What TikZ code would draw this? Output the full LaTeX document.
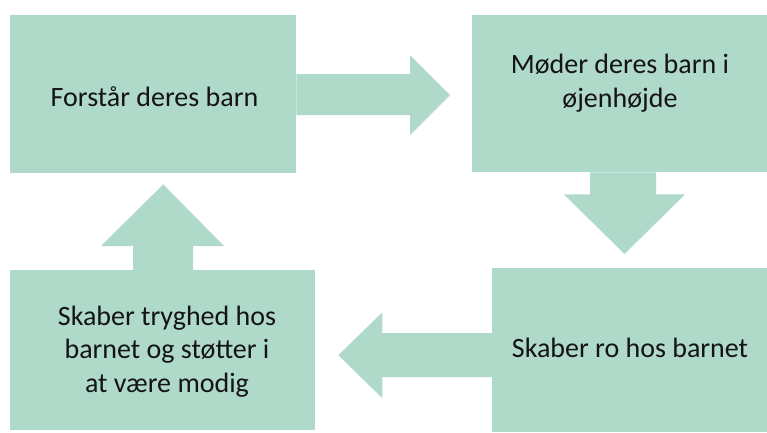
\documentclass[tikz,border=0pt]{standalone}
\usepackage{fontspec}
\setmainfont{Carlito}
\usetikzlibrary{calc}
\definecolor{mint}{HTML}{AFD9C9}
\begin{document}
\begin{tikzpicture}[x=1pt,y=-1pt,
  box/.style={fill=mint, draw=none, inner sep=0pt, anchor=north west},
  arr/.style={fill=mint, draw=none},
  lbl/.style={font=\fontsize{28}{33.5}\selectfont, align=center, inner sep=0pt, text=black!92}]
\useasboundingbox (0,0) rectangle (767,432);
% boxes
\node[box, minimum width=286pt, minimum height=158pt] (b1) at (10,15) {};
\node[box, minimum width=295pt, minimum height=157pt] (b2) at (472,15) {};
\node[box, minimum width=275pt, minimum height=164pt] (b3) at (492,268) {};
\node[box, minimum width=305pt, minimum height=160pt] (b4) at (10,270) {};
% arrow b1 -> b2
\path (b1.east) coordinate (r0) (b2.west |- b1.east) coordinate (r1);
\fill[arr] ($(r0)+(0,-20)$) -- ($(r1)+(-62,-20)$) -- ($(r1)+(-62,-39)$)
  -- ($(r1)+(-22,1)$) -- ($(r1)+(-62,41)$) -- ($(r1)+(-62,21)$) -- ($(r0)+(0,21)$) -- cycle;
% arrow b2 -> b3
\fill[arr] ($(b2.south west)+(118,0)$) -- ($(b2.south west)+(118,22)$) -- ($(b2.south west)+(92,22)$)
  -- ($(b3.north west)+(132.5,-14)$) -- ($(b2.south west)+(213,22)$) -- ($(b2.south west)+(184,22)$)
  -- ($(b2.south west)+(184,0)$) -- cycle;
% arrow b3 -> b4
\fill[arr] ($(b3.west)+(0,-17)$) -- ($(b4.east)+(67,-17)$) -- ($(b4.east)+(67,-38)$)
  -- ($(b4.east)+(23,5)$) -- ($(b4.east)+(67,48)$) -- ($(b4.east)+(67,27)$) -- ($(b3.west)+(0,27)$) -- cycle;
% arrow b4 -> b1
\fill[arr] ($(b4.north west)+(123,0)$) -- ($(b4.north west)+(123,-24)$) -- ($(b4.north west)+(91,-24)$)
  -- ($(b1.south)+(10,11)$) -- ($(b4.north west)+(214,-24)$) -- ($(b4.north west)+(183,-24)$)
  -- ($(b4.north west)+(183,0)$) -- cycle;
% texts (base = baseline of the last line)
\node[lbl, anchor=base] (t1) at (154.5,106) {Forstår deres barn};
\node[lbl, anchor=base] (t2) at (620,107) {Møder deres barn i\\øjenhøjde};
\node[lbl, anchor=base] (t3) at (630,357) {Skaber ro hos barnet};
\node[lbl, anchor=base] (t4) at (167,392) {Skaber tryghed hos\\barnet og støtter i\\at være modig};
\end{tikzpicture}
\end{document}
